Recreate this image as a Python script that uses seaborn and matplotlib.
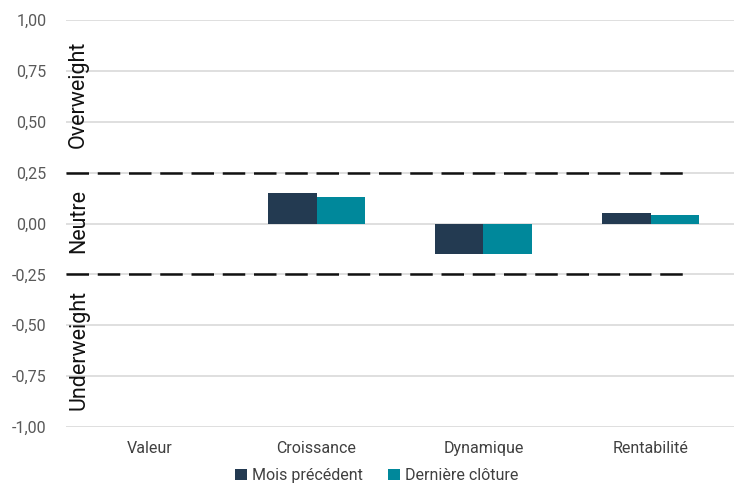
import matplotlib
matplotlib.use("Agg")
import matplotlib.pyplot as plt
import seaborn as sns
import pandas as pd

categories = ["Valeur", "Croissance", "Dynamique", "Rentabilité"]
series_names = ["Mois précédent", "Dernière clôture"]
mois_precedent = [0.0, 0.15, -0.15, 0.05]
derniere_cloture = [0.0, 0.13, -0.15, 0.04]
yticks = [1.0, 0.75, 0.5, 0.25, 0.0, -0.25, -0.5, -0.75, -1.0]
zones = ["Overweight", "Neutre", "Underweight"]
zone_centers = [0.637, 0.01, -0.62]
thresholds = [0.25, -0.25]

colors = ["#233a51", "#00889b"]

sns.set_theme(style="white")
plt.rcParams["font.family"] = ["Roboto", "DejaVu Sans"]

df = pd.DataFrame({
    "cat": categories * 2,
    "val": mois_precedent + derniere_cloture,
    "serie": [series_names[0]] * 4 + [series_names[1]] * 4,
})

fig = plt.figure(figsize=(7.34, 4.92), dpi=100)
ax = fig.add_axes([66 / 734, 1 - 427 / 492, 1 - 66 / 734, (427 - 20) / 492])

for y in yticks:
    ax.axhline(y, color="#d9d9d9", lw=1.2, zorder=0)

sns.barplot(data=df, x="cat", y="val", hue="serie", palette=colors,
            width=0.575, gap=0, ax=ax, saturation=1, zorder=2, linewidth=0)

for t in thresholds:
    ax.axhline(t, xmin=0, xmax=0.935, color="#111111", lw=1.8,
               dashes=(9, 3.5), zorder=3)

ax.set_ylim(-1, 1)
ax.set_xlim(-0.5, 3.5)
ax.set_yticks(yticks)
ax.set_yticklabels([f"{v:.2f}".replace(".", ",") for v in yticks])
ax.tick_params(axis="y", labelsize=11.5, labelcolor="#595959", length=0, pad=14)
ax.tick_params(axis="x", labelsize=11.5, labelcolor="#404040", length=0, pad=10)
ax.set_xlabel("")
ax.set_ylabel("")
for s in ax.spines.values():
    s.set_visible(False)

for z, yc in zip(zones, zone_centers):
    ax.text(-0.425, yc, z, rotation=90, ha="center", va="center",
            fontsize=15.5, color="#111111", zorder=4)

leg = ax.legend(loc="upper center", bbox_to_anchor=(0.465, -0.085), ncol=2,
                frameon=False, fontsize=11.5, handlelength=0.75, handleheight=0.75,
                handletextpad=0.3, columnspacing=1.6, borderaxespad=0)
for txt in leg.get_texts():
    txt.set_color("#404040")

fig.savefig("out.png", dpi=100)
